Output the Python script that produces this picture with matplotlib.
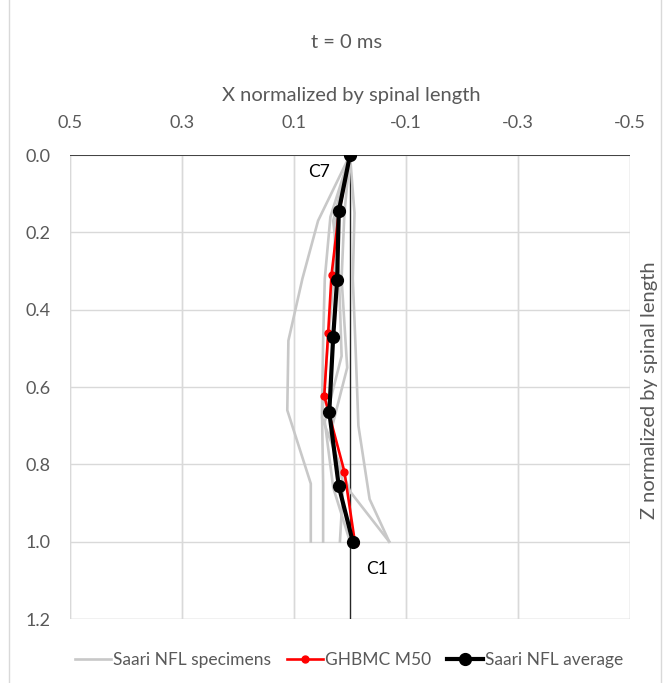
import matplotlib
matplotlib.use("Agg")
import matplotlib.pyplot as plt
from matplotlib.lines import Line2D
from matplotlib.patches import Rectangle

# Spine position data (X and Z normalized by spinal length), C7 at top, C1 at bottom
avg_x = [0.0, 0.020, 0.023, 0.030, 0.037, 0.020, -0.005]
avg_z = [0.0, 0.145, 0.323, 0.470, 0.665, 0.857, 1.0]

ghbmc_x = [0.0, 0.020, 0.033, 0.039, 0.046, 0.010, -0.009]
ghbmc_z = [0.0, 0.150, 0.310, 0.461, 0.623, 0.819, 1.004]

specimens_x = [
    [0.0, 0.057, 0.085, 0.110, 0.112, 0.070, 0.070],
    [0.0, 0.035, 0.045, 0.048, 0.050, 0.048, 0.048],
    [0.0, 0.025, 0.030, 0.040, 0.050, 0.000, -0.070],
    [0.0, -0.008, -0.005, -0.010, -0.015, -0.035, -0.070],
    [0.0, 0.010, 0.015, 0.005, 0.035, 0.012, 0.018],
    [0.0, 0.030, 0.020, 0.015, 0.045, 0.030, 0.000],
]
specimens_z = [
    [0.0, 0.170, 0.320, 0.480, 0.660, 0.850, 1.0],
    [0.0, 0.160, 0.320, 0.480, 0.660, 0.850, 1.0],
    [0.0, 0.150, 0.330, 0.500, 0.680, 0.870, 1.0],
    [0.0, 0.150, 0.320, 0.500, 0.700, 0.890, 1.0],
    [0.0, 0.150, 0.320, 0.550, 0.720, 0.850, 1.0],
    [0.0, 0.170, 0.300, 0.520, 0.690, 0.860, 1.0],
]

x_ticks = [0.5, 0.3, 0.1, -0.1, -0.3, -0.5]
z_ticks = [0.0, 0.2, 0.4, 0.6, 0.8, 1.0, 1.2]

plt.rcParams['font.family'] = ['Lato', 'DejaVu Sans']
text_color = '#595959'
grid_color = '#d9d9d9'
spec_color = '#c8c8c8'

fig = plt.figure(figsize=(6.69, 6.83), dpi=100)
fig.patches.append(Rectangle((9 / 669, -0.01), 652 / 669, 1.02,
                             transform=fig.transFigure, fill=False,
                             edgecolor='#d9d9d9', linewidth=1.0))

ax = fig.add_axes([70 / 669, 64 / 683, 560 / 669, 464 / 683])
ax.set_xlim(0.5, -0.5)
ax.set_ylim(1.2, 0.0)

ax.set_xticks(x_ticks)
ax.set_xticklabels([f"{v:.1f}" for v in x_ticks])
ax.set_yticks(z_ticks)
ax.set_yticklabels([f"{v:.1f}" for v in z_ticks])
ax.xaxis.tick_top()
ax.tick_params(axis='x', length=0, pad=17, labelsize=13, labelcolor=text_color)
ax.tick_params(axis='y', length=0, pad=14, labelsize=13, labelcolor=text_color)

ax.grid(True, color=grid_color, linewidth=1.0)
ax.set_axisbelow(True)
for s in ax.spines.values():
    s.set_visible(False)
for v in x_ticks:
    ax.axvline(v, color=grid_color, linewidth=1.0, zorder=0)
ax.axhline(1.2, color=grid_color, linewidth=1.0, zorder=0)

ax.axhline(0.0, color='#404040', linewidth=1.4, zorder=1)
ax.axvline(0.0, color='#262626', linewidth=1.0, zorder=1)

for sx, sz in zip(specimens_x, specimens_z):
    ax.plot(sx, sz, color=spec_color, linewidth=1.9, zorder=2)

ax.plot(ghbmc_x, ghbmc_z, color='#ff0000', linewidth=1.9, marker='o',
        markersize=5, zorder=3)
ax.plot(avg_x, avg_z, color='black', linewidth=3.0, marker='o',
        markersize=8.5, zorder=4)

ax.text(0.055, 0.045, 'C7', fontsize=12.5, color='black', ha='center', va='center')
ax.text(-0.048, 1.07, 'C1', fontsize=12.5, color='black', ha='center', va='center')

fig.text(347 / 669, 1 - 42 / 683, 't = 0 ms', fontsize=14.5, color=text_color,
         ha='center', va='center')
fig.text(351 / 669, 1 - 96 / 683, 'X normalized by spinal length', fontsize=14.5,
         color=text_color, ha='center', va='center')
fig.text(649 / 669, 1 - 390 / 683, 'Z normalized by spinal length', fontsize=14.5,
         color=text_color, ha='center', va='center', rotation=90)

handles = [
    Line2D([], [], color=spec_color, linewidth=1.9),
    Line2D([], [], color='#ff0000', linewidth=1.9, marker='o', markersize=5),
    Line2D([], [], color='black', linewidth=3.0, marker='o', markersize=8.5),
]
labels = ['Saari NFL specimens', 'GHBMC M50', 'Saari NFL average']
leg = fig.legend(handles, labels, loc='center', bbox_to_anchor=(349 / 669, 1 - 660 / 683),
                 ncol=3, frameon=False, fontsize=12.5, handlelength=2.1,
                 handletextpad=0.1, columnspacing=0.9)
for t in leg.get_texts():
    t.set_color(text_color)

fig.savefig('out.png', dpi=100)
